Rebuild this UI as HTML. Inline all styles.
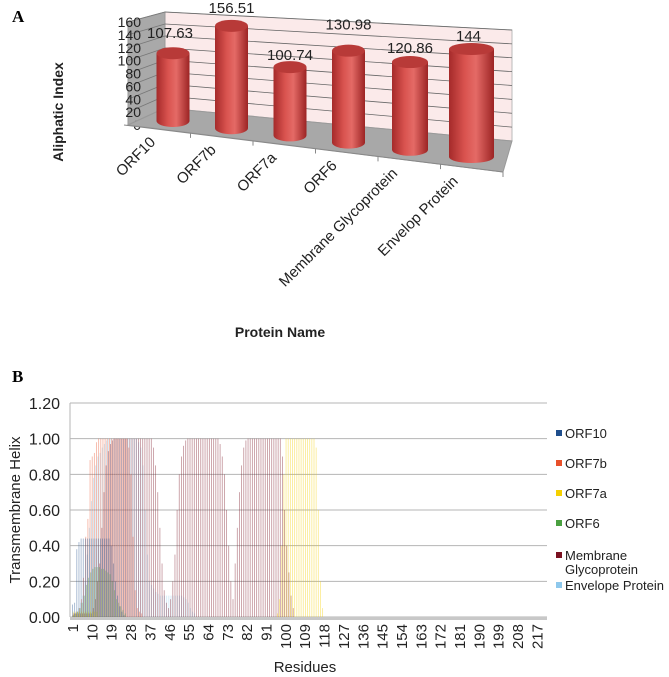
<!DOCTYPE html>
<html><head><meta charset="utf-8"><style>
html,body{margin:0;padding:0;background:#fff;}
body{width:669px;height:677px;overflow:hidden;position:relative;font-family:"Liberation Sans",sans-serif;}
svg{position:absolute;left:0;top:0;}
</style></head><body>
<svg id="s" width="669" height="677" viewBox="0 0 669 677">
<text x="12" y="22" font-family="Liberation Serif" font-weight="bold" font-size="17">A</text>
<text x="12" y="382" font-family="Liberation Serif" font-weight="bold" font-size="17">B</text>
<g id="ga"></g>
<g id="gb"></g>
</svg>
<script>
// ---- Panel A data ----
const catsA = ["ORF10","ORF7b","ORF7a","ORF6","Membrane Glycoprotein","Envelop Protein"];
const valsA = [107.63,156.51,100.74,130.98,120.86,144];
const ticksA = [0,20,40,60,80,100,120,140,160];

// ---- Panel B data ----
const seriesNames = ["ORF10","ORF7b","ORF7a","ORF6","Membrane Glycoprotein","Envelope Protein"];
const seriesColors = ["#1f4e8c","#e8502a","#f5d000","#4aa040","#7a1020","#8ec8ec"];
const ticksB = [0,0.2,0.4,0.6,0.8,1.0,1.2];
const residueTicks = [1,10,19,28,37,46,55,64,73,82,91,100,109,118,127,136,145,154,163,172,181,190,199,208,217];
const orf10 = [0.07,0.08,0.38,0.42,0.44,0.44,0.44,0.44,0.44,0.44,0.44,0.44,0.44,0.44,0.44,0.44,0.44,0.44,0.40,0.30,0.20,0.12,0.06,0.03,0.01];
const orf7b = [0.01,0.02,0.03,0.05,0.1,0.22,0.45,0.55,0.88,0.9,0.92,0.98,1,1,1,1,1,1,1,1,1,1,1,1,1,1,0.95,0.8,0.45,0.15,0.05,0.03,0.02];
const orf7a = [0.03,0.03,0.03,0.03,0.03,0.03,0.03,0.03,0.03,0.03,0.03,0.03,0,0,0,0,0,0,0,0,0,0,0,0,0,0,0,0,0,0,0,0,0,0,0,0,0,0,0,0,0,0,0,0,0,0,0,0,0,0,0,0,0,0,0,0,0,0,0,0,0,0,0,0,0,0,0,0,0,0,0,0,0,0,0,0,0,0,0,0,0,0,0,0,0,0,0,0,0,0,0,0,0,0,0,0.02,0.1,0.4,0.8,1,1,1,1,1,1,1,1,1,1,1,1,1,1,0.95,0.6,0.2,0.05];
const orf6 = [0.01,0.02,0.03,0.05,0.08,0.12,0.18,0.22,0.25,0.27,0.28,0.28,0.28,0.27,0.27,0.26,0.25,0.24,0.2,0.15,0.1,0.08,0.06,0.04,0.02];
const membrane = [0.02,0.02,0.02,0.02,0.02,0.02,0.02,0.02,0.02,0.05,0.1,0.2,0.3,0.5,0.7,0.85,0.93,0.97,0.99,1,1,1,1,1,1,1,1,1,1,1,1,1,1,1,1,1,1,0.95,0.85,0.7,0.5,0.3,0.15,0.08,0.05,0.1,0.2,0.35,0.6,0.8,0.9,0.96,0.99,1,1,1,1,1,1,1,1,1,1,1,1,1,1,1,0.97,0.9,0.8,0.6,0.4,0.2,0.1,0.3,0.5,0.7,0.85,0.95,0.99,1,1,1,1,1,1,1,1,1,1,1,1,1,1,1,1,0.9,0.6,0.4,0.25,0.12,0.05];
const envelope = [0.02,0.03,0.05,0.08,0.12,0.2,0.35,0.5,0.65,0.78,0.85,0.9,0.92,0.95,0.97,0.99,1,1,1,1,1,1,1,1,1,1,1,1,1,1,0.98,0.95,0.85,0.6,0.35,0.2,0.18,0.16,0.14,0.13,0.12,0.12,0.12,0.12,0.12,0.12,0.12,0.12,0.12,0.12,0.12,0.11,0.1,0.08,0.05,0.03,0.02];

const NS="http://www.w3.org/2000/svg";
function mk(tag, attrs, parent, txt){
  const e=document.createElementNS(NS,tag);
  for(const k in attrs) e.setAttribute(k,attrs[k]);
  if(txt!==undefined) e.textContent=txt;
  parent.appendChild(e); return e;
}

// ================= Panel A =================
const ga=document.getElementById('ga');
const L={x:165,yTop:12,yBot:108}, R={x:512,yTop:30,yBot:141};
const FL={x:128,y:125}, FR={x:503,y:172};
function wallY(x,v){
  const t=(x-L.x)/(R.x-L.x);
  const yb=L.yBot+(R.yBot-L.yBot)*t, yt=L.yTop+(R.yTop-L.yTop)*t;
  return yb-(yb-yt)*v/160;
}
let e;
e=mk('polygon',{points:`${L.x},${L.yTop} ${R.x},${R.yTop} ${R.x},${R.yBot} ${L.x},${L.yBot}`,fill:'#fbeaea',stroke:'#bbb'},ga);


e=mk('polygon',{points:`${FL.x},${FL.y-103} ${L.x},${L.yTop} ${L.x},${L.yBot} ${FL.x},${FL.y}`,fill:'#a9a9a9',stroke:'#999'},ga);


ticksA.forEach(v=>{
  if(v>0){
  const l=mk('line',{x1:L.x,y1:wallY(L.x,v),x2:R.x,y2:wallY(R.x,v),stroke:'#666','stroke-width':0.8},ga);
  
  
  const l2=mk('line',{x1:FL.x,y1:FL.y-v/160*103,x2:L.x,y2:L.yBot-v/160*96,stroke:'#777','stroke-width':0.8},ga);
  
  }
  const t=mk('text',{x:141,y:FL.y-v/160*103+5,'text-anchor':'end','font-size':14,fill:'#222'},ga,String(v));
  
  
});
e=mk('polygon',{points:`${FL.x},${FL.y} ${L.x},${L.yBot} ${R.x},${R.yBot} ${FR.x},${FR.y}`,fill:'#a8a8a8',stroke:'#999'},ga);


e=mk('line',{x1:FL.x-4,y1:FL.y,x2:FR.x,y2:FR.y,stroke:'#888','stroke-width':1},ga);


const defs=mk('defs',{},ga);
const gr=mk('linearGradient',{id:'cyl',x1:0,x2:1,y1:0,y2:0},defs);
mk('stop',{offset:'0','stop-color':'#a52a2a'},gr);
mk('stop',{offset:'0.35','stop-color':'#d9534f'},gr);
mk('stop',{offset:'0.6','stop-color':'#e46a66'},gr);
mk('stop',{offset:'1','stop-color':'#9c2424'},gr);
const n=catsA.length;
const labelOff=[15,13,7,21,9,8];
function catX(i){return 173+i*58.5+ (i>=4?(i-3)*3:0);}
function baseY(i){return 121+i*7.2;}
function kScale(i){return 0.63+0.024*i;}
function cylW(i){return i<4?33:(i==4?36:45);}
for(let i=0;i<n;i++){
  const cx=catX(i), by=baseY(i), w=cylW(i), h=valsA[i]*kScale(i), ty=by-h, ry=6;
  const g=mk('g',{},ga);
  
  
  mk('path',{d:`M${cx-w/2},${ty} L${cx-w/2},${by} A${w/2},${ry} 0 0 0 ${cx+w/2},${by} L${cx+w/2},${ty} Z`,fill:'url(#cyl)'},g);
  mk('ellipse',{cx:cx,cy:ty,rx:w/2,ry:ry,fill:'#b83a38'},g);
  const t=mk('text',{x:cx+(i==0?-3:(i==5?-3:0)),y:ty-labelOff[i],'text-anchor':'middle','font-size':15,fill:'#222'},ga,String(valsA[i]));
  
  
  const tx=FL.x+(FR.x-FL.x)*(i+0.5)/n, tyy=FL.y+(FR.y-FL.y)*(i+0.5)/n;
  const lx=FL.x+(FR.x-FL.x)*(i+1)/n, ly=FL.y+(FR.y-FL.y)*(i+1)/n;
  const tk=mk('line',{x1:lx,y1:ly,x2:lx,y2:ly+5,stroke:'#888'},ga);
  
  
  const ex=tx-3-i*2, ey=tyy+14;
  const cl=mk('text',{x:ex,y:ey,'text-anchor':'end','font-size':15,fill:'#222',transform:`rotate(-45 ${ex} ${ey})`},ga,catsA[i]);
  
  
}
e=mk('text',{x:0,y:0,'font-size':14,'font-weight':'bold',fill:'#222','text-anchor':'middle',transform:'translate(63,112) rotate(-90)'},ga,'Aliphatic Index');


e=mk('text',{x:280,y:337,'font-size':14,'font-weight':'bold',fill:'#222','text-anchor':'middle'},ga,'Protein Name');



// ================= Panel B =================
const gb=document.getElementById('gb');
const px0=70, px1=547, py0=617, py1=403;
function yB(v){return py0-(v/1.2)*(py0-py1);}
function xB(r){return 73+(r-1)*2.15;}
ticksB.forEach(v=>{
  const l=mk('line',{x1:px0,y1:yB(v),x2:px1,y2:yB(v),stroke:'#b5b5b5','stroke-width':1},gb);
  
  
  const t=mk('text',{x:60,y:yB(v)+6,'text-anchor':'end','font-size':16,fill:'#222'},gb,v.toFixed(2));
  
  
});
e=mk('line',{x1:px0,y1:py1,x2:px0,y2:py0,stroke:'#b5b5b5'},gb);


e=mk('rect',{x:px0,y:py0,width:px1-px0,height:3,fill:'#c8c8c8'},gb);


const allSeries=[orf10,orf7b,orf7a,orf6,membrane,envelope];
const order=[5,1,4,2,3,0];
order.forEach(si=>{
  const data=allSeries[si];
  const g=mk('g',{opacity:0.45},gb);
  
  
  data.forEach((v,j)=>{
    if(v<=0) return;
    const x=xB(j+1)-0.9+si*0.35;
    const r=mk('rect',{x:x,y:yB(v),width:0.8,height:py0-yB(v),fill:seriesColors[si]},g);
    
    
  });
});
residueTicks.forEach(r=>{
  const x=xB(r);
  const t=mk('text',{x:0,y:0,'font-size':15,fill:'#222','text-anchor':'end',transform:`translate(${x+5},${py0+7}) rotate(-90)`},gb,String(r));
  
  
});
e=mk('text',{x:0,y:0,'font-size':15,fill:'#222','text-anchor':'middle',transform:'translate(20,510) rotate(-90)'},gb,'Transmembrane Helix');


e=mk('text',{x:305,y:672,'font-size':15,fill:'#222','text-anchor':'middle'},gb,'Residues');


const legY=[438,468,498,528,560,590];
seriesNames.forEach((nm,i)=>{
  const g=mk('g',{},gb);
  
  
  mk('rect',{x:556,y:legY[i]-8,width:6,height:6,fill:seriesColors[i]},g);
  if(i===4){
    mk('text',{x:565,y:legY[i],'font-size':13,fill:'#222'},g,'Membrane');
    mk('text',{x:565,y:legY[i]+14,'font-size':13,fill:'#222'},g,'Glycoprotein');
  } else mk('text',{x:565,y:legY[i],'font-size':13,fill:'#222'},g,nm);
});
</script>
</body></html>
